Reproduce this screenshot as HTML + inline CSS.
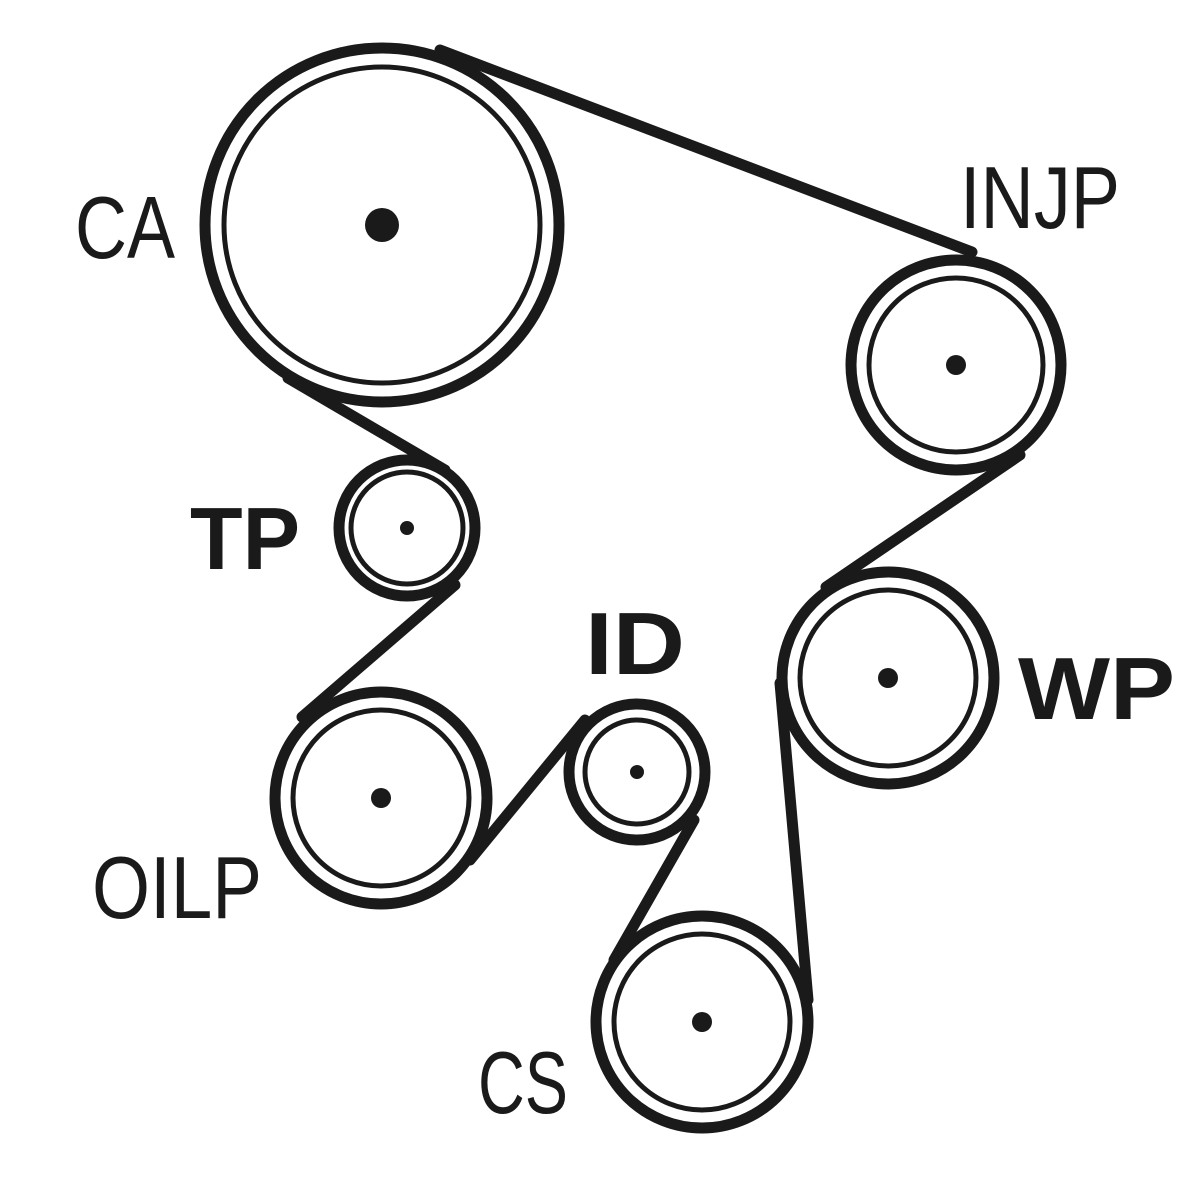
<!DOCTYPE html>
<html><head><style>body{margin:0;background:#fff}svg{display:block}</style></head><body>
<svg width="1200" height="1200" viewBox="0 0 1200 1200" xmlns="http://www.w3.org/2000/svg">
<g fill="none" stroke="#1a1a1a" stroke-linecap="round">
<g stroke-width="11">
<circle cx="382" cy="225" r="177"/>
<circle cx="956" cy="365" r="105"/>
<circle cx="407" cy="528" r="68"/>
<circle cx="381" cy="798" r="106"/>
<circle cx="637" cy="772" r="68"/>
<circle cx="888" cy="678" r="106"/>
<circle cx="702" cy="1022" r="106"/>
<line x1="440" y1="50" x2="972" y2="252"/>
<line x1="288" y1="378" x2="445" y2="470"/>
<line x1="455" y1="585" x2="302" y2="717"/>
<line x1="470" y1="860" x2="585" y2="720"/>
<line x1="694" y1="820" x2="614" y2="960"/>
<line x1="808" y1="1000" x2="780" y2="683"/>
<line x1="826" y1="587" x2="1020" y2="455"/>
</g>
<g stroke-width="5">
<circle cx="382" cy="225" r="158"/>
<circle cx="956" cy="365" r="87"/>
<circle cx="407" cy="528" r="56"/>
<circle cx="381" cy="798" r="88"/>
<circle cx="637" cy="772" r="52"/>
<circle cx="888" cy="678" r="88"/>
<circle cx="702" cy="1022" r="88"/>
</g>
</g>
<g fill="#1a1a1a">
<circle cx="382" cy="225" r="17"/>
<circle cx="956" cy="365" r="10"/>
<circle cx="407" cy="528" r="7"/>
<circle cx="381" cy="798" r="10"/>
<circle cx="637" cy="772" r="7"/>
<circle cx="888" cy="678" r="10"/>
<circle cx="702" cy="1022" r="10"/>
</g>
<g fill="#1a1a1a" font-family="Liberation Sans, sans-serif" font-size="88">
<text x="75" y="258" textLength="100" lengthAdjust="spacingAndGlyphs">CA</text>
<text x="960" y="228" textLength="160" lengthAdjust="spacingAndGlyphs">INJP</text>
<text x="92" y="918" textLength="170" lengthAdjust="spacingAndGlyphs">OILP</text>
<text x="478" y="1113" textLength="90" lengthAdjust="spacingAndGlyphs">CS</text>
<g font-weight="bold">
<text x="190" y="569" textLength="110" lengthAdjust="spacingAndGlyphs">TP</text>
<text x="585" y="674" textLength="100" lengthAdjust="spacingAndGlyphs">ID</text>
<text x="1018" y="719" textLength="157" lengthAdjust="spacingAndGlyphs">WP</text>
</g>
</g>
</svg>
</body></html>
